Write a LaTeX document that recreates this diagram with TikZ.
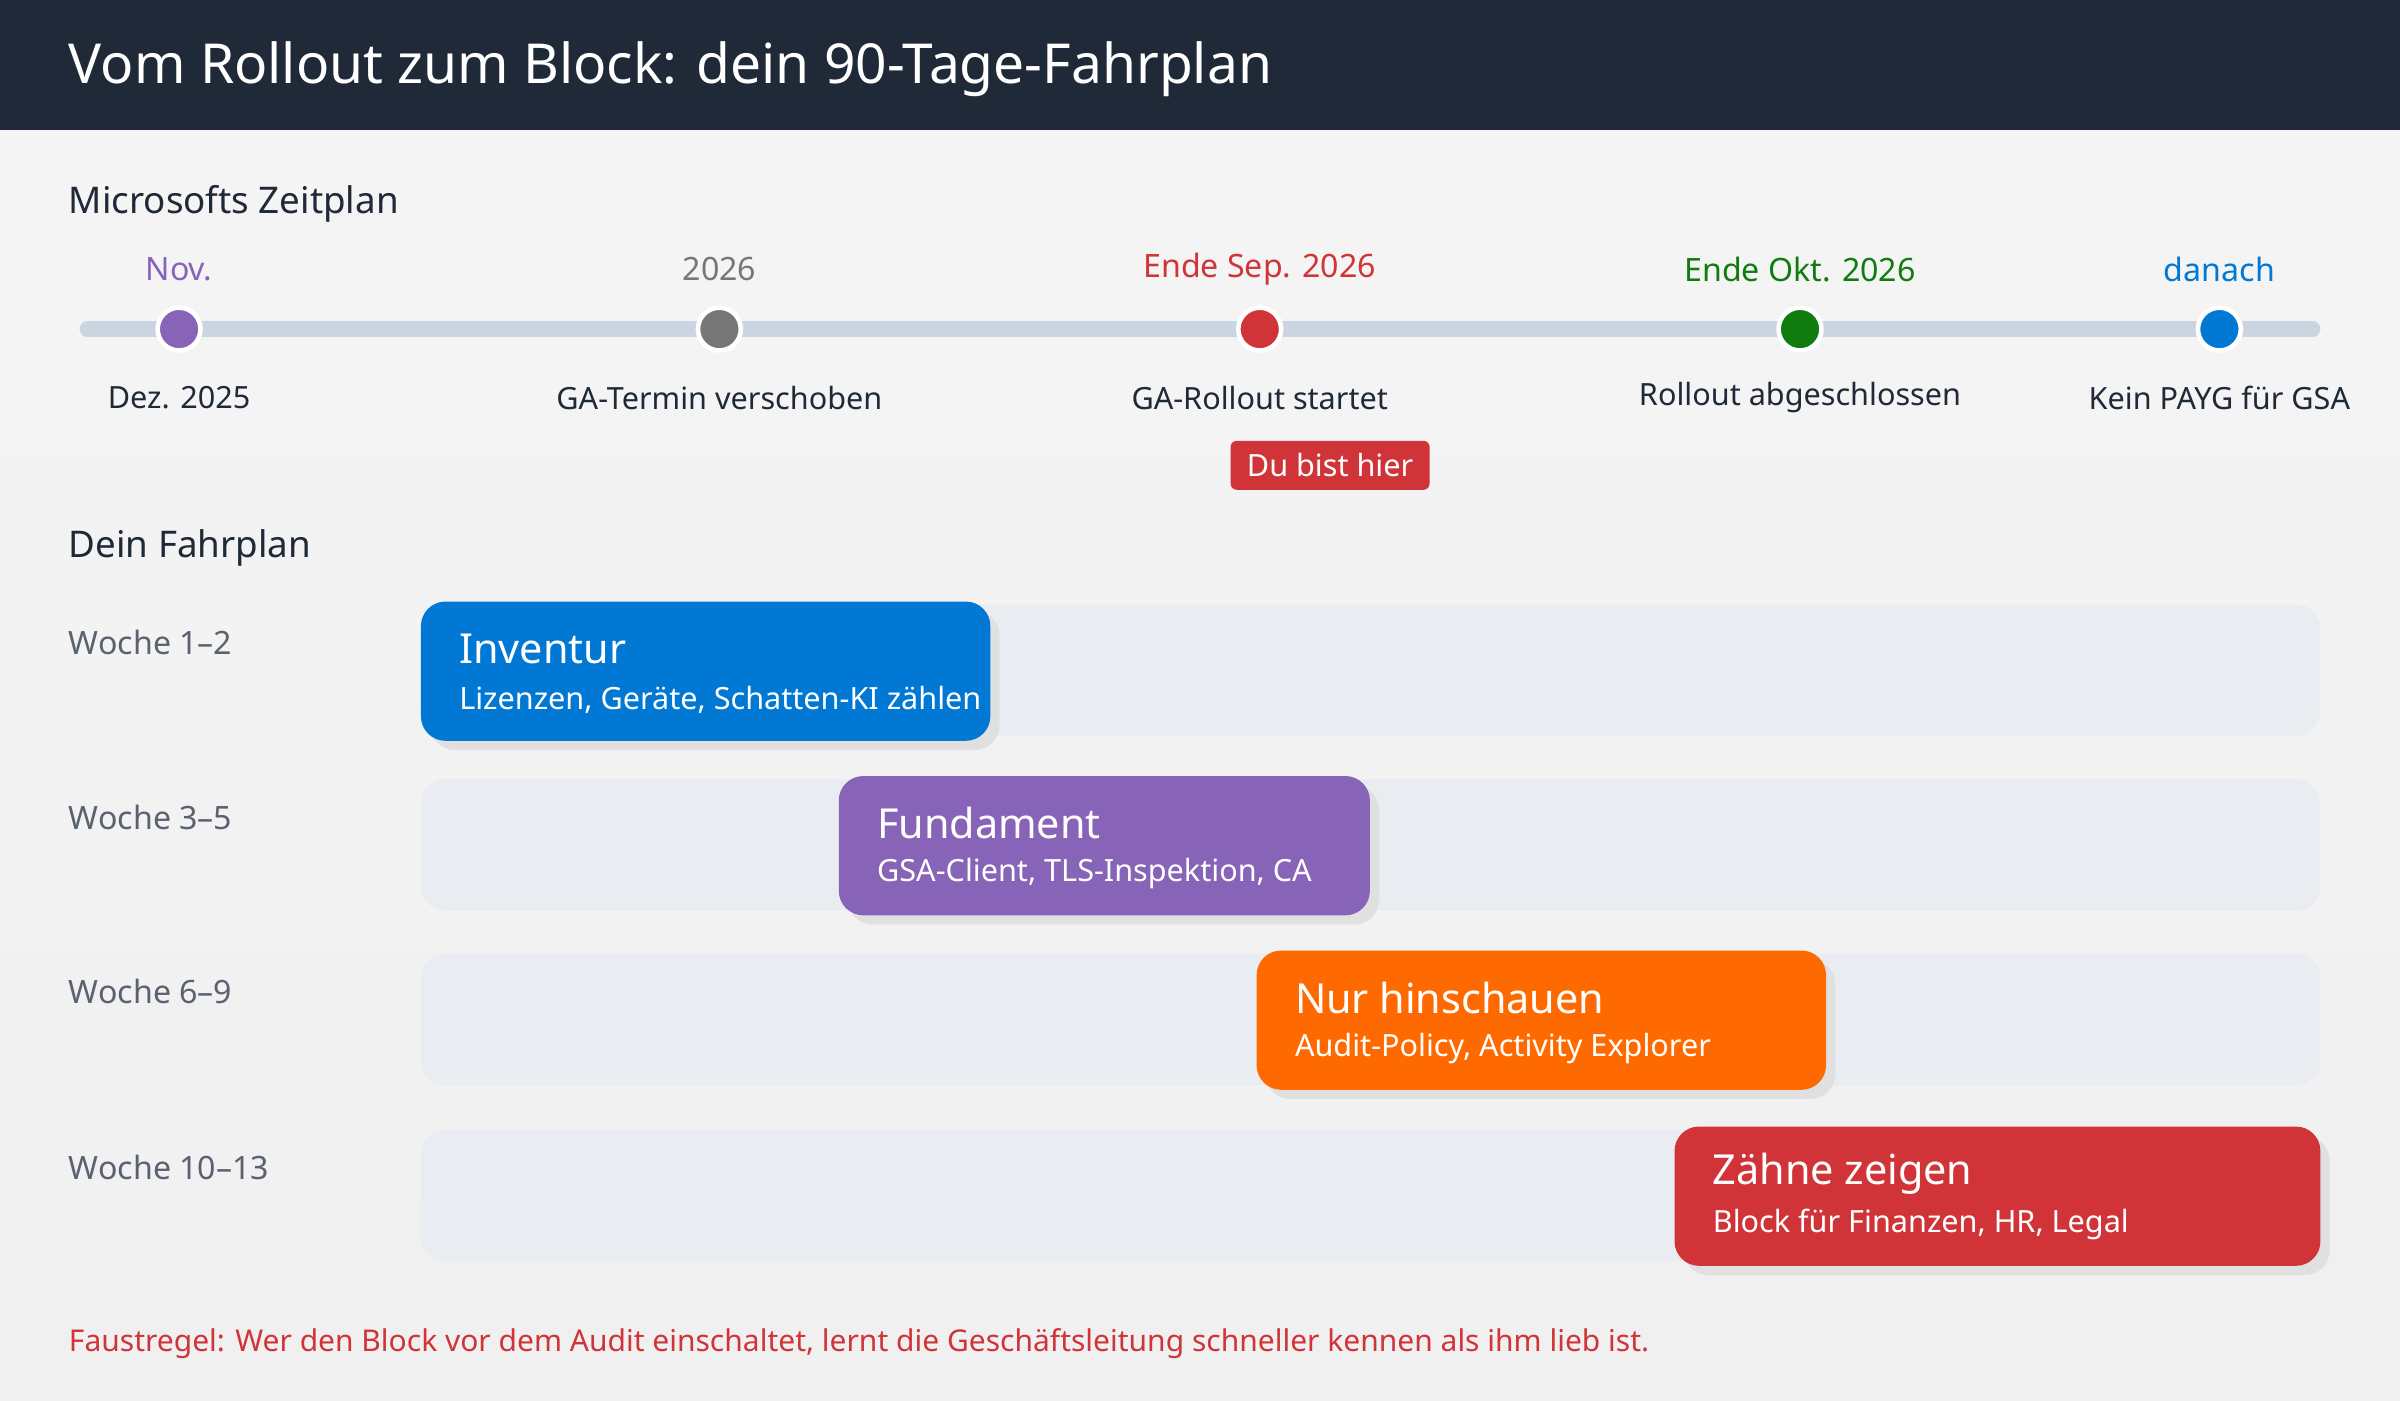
\documentclass[tikz,border=0pt]{standalone}
\usepackage{fontspec}
\setmainfont{Noto Sans}
\usetikzlibrary{positioning}
\definecolor{kopf}{HTML}{1F2937}
\definecolor{schiene}{HTML}{CBD5E1}
\definecolor{spur}{HTML}{E9ECF0}
\definecolor{grau}{HTML}{5A6270}
\definecolor{lila}{HTML}{8764B8}
\definecolor{dgrau}{HTML}{767676}
\definecolor{rot}{HTML}{D13438}
\definecolor{gruen}{HTML}{107C10}
\definecolor{blau}{HTML}{0078D4}
\definecolor{orange}{HTML}{FF6A00}
\tikzset{
  punkt/.style={circle,draw=white,line width=1.5pt,minimum size=14pt,inner sep=0pt},
  datum/.style={font=\bfseries\fontsize{10.5}{12}\selectfont},
  ereignis/.style={font=\fontsize{10}{12}\selectfont,text=kopf},
  woche/.style={anchor=west,font=\fontsize{10.5}{12}\selectfont,text=grau},
  kopfzeile/.style={anchor=west,font=\bfseries\fontsize{12}{14}\selectfont,text=kopf},
}
\begin{document}
\begin{tikzpicture}[x=0.5pt,y=-0.5pt]
  % Hintergrund und Kopf
  \useasboundingbox (0,0) rectangle (1568,915);
  \shade[top color=white!96!black,bottom color=white!94!black] (0,85) rectangle (1568,915);
  \fill[kopf] (0,0) rectangle (1568,85);
  \node[anchor=west,text=white,font=\bfseries\fontsize{18}{22}\selectfont] (titel) at (38,45) {Vom Rollout zum Block: dein 90-Tage-Fahrplan};

  % Zeitplan
  \node[kopfzeile] (zeitplan) at (38,133) {Microsofts Zeitplan};
  \draw[schiene,line width=5pt,line cap=round] (57,215) -- (1511,215);
  \foreach \x/\farbe/\datum/\text/\name in {117/lila/Nov./Dez. 2025/Public Preview/p1,
      470/dgrau/2026/GA-Termin verschoben/p2,
      823/rot/Ende Sep. 2026/GA-Rollout startet/p3,
      1176/gruen/Ende Okt. 2026/Rollout abgeschlossen/p4,
      1450/blau/danach/Kein PAYG für GSA/p5} {
    \node[punkt,fill=\farbe] (\name) at (\x,215) {};
    \node[datum,text=\farbe] (\name d) at (\x,176) {\datum};
    \node[ereignis] (\name t) at (\x,260) {\text};
  }
  \node[fill=rot,rounded corners=2pt,text=white,minimum width=65pt,minimum height=16pt,
    font=\fontsize{10}{12}\selectfont,inner sep=0pt] (hier) at (869,304) {Du bist hier};
  \draw[rot,line width=1pt] (hier.north -| 869,272) -- (hier.north);

  % Fahrplan
  \node[kopfzeile] (fahrplan) at (38,358) {Dein Fahrplan};
  \foreach \y/\wo/\xa/\xb/\farbe/\kopf/\unter [count=\i] in {
      393/1–2/275/647/blau/Inventur/{Lizenzen, Geräte, Schatten-KI zählen},
      507/3–5/548/895/lila/Fundament/{GSA-Client, TLS-Inspektion, CA},
      621/6–9/821/1193/orange/Nur hinschauen/{Audit-Policy, Activity Explorer},
      736/10–13/1094/1516/rot/Zähne zeigen/{Block für Finanzen, HR, Legal}} {
    \fill[spur,rounded corners=8pt] (275,\y+2) rectangle (1516,\y+88);
    \node[woche] (w\i) at (38,\y+27) {Woche \wo};
    \fill[black!12,rounded corners=8pt] (\xa+6,\y+6) rectangle (\xb+6,\y+97);
    \fill[\farbe,rounded corners=8pt] (\xa,\y) rectangle (\xb,\y+91);
    \node[anchor=west,text=white,font=\bfseries\fontsize{13.5}{16}\selectfont] (b\i) at (\xa+18,\y+31) {\kopf};
    \node[anchor=west,text=white,font=\fontsize{10}{12}\selectfont] (u\i) at (\xa+18,\y+64) {\unter};
  }

  \node[anchor=west,text=rot,font=\bfseries\fontsize{9.8}{12}\selectfont] (regel) at (38,878)
    {Faustregel: Wer den Block vor dem Audit einschaltet, lernt die Geschäftsleitung schneller kennen als ihm lieb ist.};
\end{tikzpicture}
\end{document}
